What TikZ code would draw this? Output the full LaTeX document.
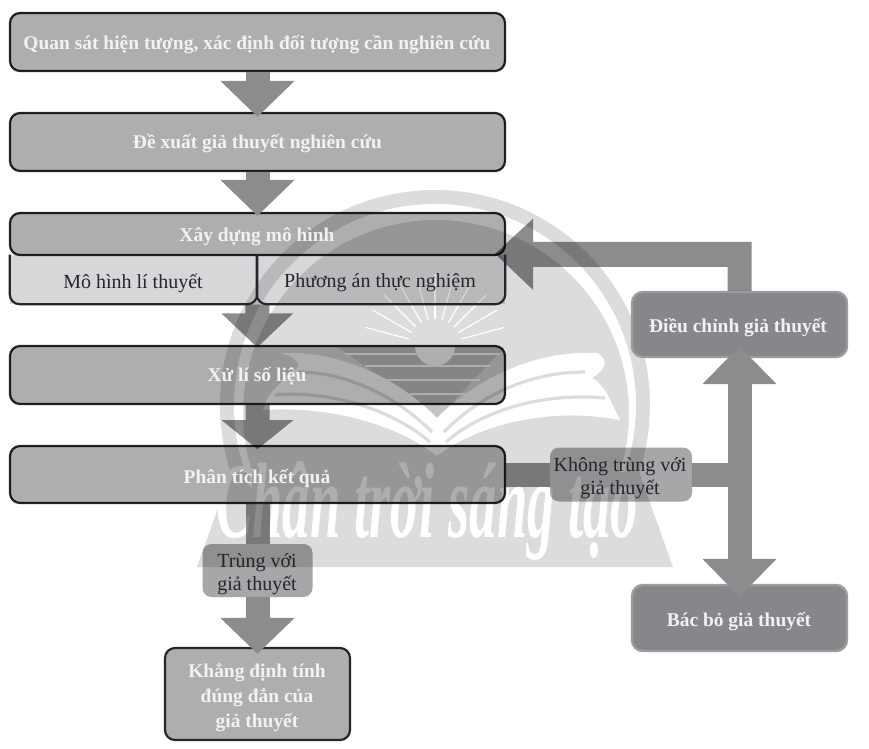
\documentclass[tikz,border=0pt]{standalone}
\usepackage{fontspec}
\setmainfont{Liberation Serif}
\usetikzlibrary{arrows.meta,calc}
\definecolor{boxfill}{HTML}{ADAEB0}
\definecolor{subfill}{HTML}{D6D7D9}
\definecolor{stemc}{HTML}{8B8C8E}
\definecolor{darkbox}{HTML}{86878A}
\definecolor{darkedge}{HTML}{9B9C9E}
\definecolor{labelbox}{HTML}{A6A7A9}
\definecolor{inkc}{HTML}{26262A}
\definecolor{wmA}{HTML}{DCDCDC}
\definecolor{wmB}{HTML}{C4C4C4}
\newlength{\px}
\setlength{\px}{0.75pt}
\tikzset{
  x=0.75pt,y=-0.75pt,
  mainbox/.style={draw=inkc,line width=2.2\px,fill=boxfill,rounded corners=10\px,inner sep=0pt},
  darkrbox/.style={draw=darkedge,line width=2.4\px,fill=darkbox,rounded corners=11\px,inner sep=0pt},
  labbox/.style={fill=labelbox,rounded corners=9\px,inner sep=0pt},
  subbox/.style={fill=subfill,inner sep=0pt},
  subedge/.style={draw=inkc,line width=2.2\px,rounded corners=10\px},
  boldtext/.style={text=white!95!black,font=\bfseries\fontsize{14.6pt}{18.75pt}\selectfont,align=center,inner sep=0pt},
  plaintext/.style={text=inkc,font=\fontsize{15pt}{17pt}\selectfont,align=center,inner sep=0pt},
  blockarrow/.style={draw=stemc,line width=18pt,-{Triangle[width=54pt,length=27pt,color=stemc]}},
  blockline/.style={draw=stemc,line width=18pt},
  blocktwo/.style={draw=stemc,line width=18pt,{Triangle[width=54pt,length=28.5pt,color=stemc]}-{Triangle[width=54pt,length=28.5pt,color=stemc]}},
  wmfont/.style={text=white,font=\bfseries\itshape\fontsize{62pt}{62pt}\selectfont,inner sep=0pt},
}
\begin{document}
\begin{tikzpicture}
\useasboundingbox (0,0) rectangle (869,749);
\fill[white] (0,0) rectangle (869,749);

% watermark, seen through the diagram
\begin{scope}
  \clip (190,180) rectangle (690,480);
  \fill[wmA] (435,405) circle[radius=215\px];
  \fill[white,even odd rule] (435,405) circle[radius=201\px] (436,413) circle[radius=193\px];
\end{scope}
\fill[wmB] (338,347) -- (505,347) -- (437,418) -- cycle;
\foreach \yy/\xa/\xb in {354/345/500,366/365/490,380/385/480,394/410/465}
  \draw[white,line width=1.3\px] (\xa,\yy) -- (\xb,\yy);
\begin{scope}[shift={(435,346)}]
  \foreach \ang in {-15,-30,-45,-60,-75,-90,-105,-120,-135,-150,-165}
    \draw[white,line width=1.2\px] (\ang:27) -- (\ang:72);
  \fill[white] (-20,0) arc[start angle=180,end angle=360,radius=20\px] -- cycle;
\end{scope}
\fill[white] (437,418) .. controls (395,375) and (335,350) .. (280,353)
   .. controls (305,360) and (300,370) .. (290,372)
   .. controls (280,385) and (265,395) .. (263,410)
   .. controls (340,405) and (405,430) .. (437,456)
   .. controls (470,430) and (540,405) .. (620,420)
   .. controls (610,400) and (605,385) .. (592,378)
   .. controls (605,370) and (610,360) .. (597,353)
   .. controls (540,350) and (480,375) .. (437,418) -- cycle;
\draw[wmA,line width=3.2\px] (298,372) .. controls (345,372) and (395,395) .. (432,432);
\draw[wmA,line width=3.2\px] (275,395) .. controls (335,390) and (395,412) .. (430,442);
\draw[wmA,line width=3.2\px] (585,372) .. controls (530,372) and (480,395) .. (444,432);
\draw[wmA,line width=3.2\px] (605,398) .. controls (540,392) and (480,412) .. (446,442);
\fill[wmA] (231,472) -- (197,567) -- (673,567) -- (639,472) -- cycle;
\node[wmfont,xscale=0.66,yscale=1.3] (wm) at (427,511) {Chân trời sáng tạo};

% shapes that let the watermark show through
\begin{scope}[blend mode=multiply]
  \coordinate (jn) at (740,474.5);
  \node[mainbox,minimum width=495\px,minimum height=58\px] (a) at (257.5,42) {};
  \node[mainbox,minimum width=495\px,minimum height=58\px] (b) at (257.5,142) {};
  \node[mainbox,minimum width=495\px,minimum height=42\px] (c) at (257.5,234) {};
  \node[subbox,minimum width=247\px,minimum height=49\px] (sl) at (133.5,279.5) {};
  \node[subbox,minimum width=248\px,minimum height=49\px] (sr) at (381,279.5) {};
  \node[mainbox,minimum width=495\px,minimum height=58\px] (d) at (257.5,375) {};
  \node[mainbox,minimum width=495\px,minimum height=57\px] (e) at (257.5,474.5) {};
  \node[labbox,minimum width=142\px,minimum height=54\px] (k) at (621,474.5) {};
  \node[labbox,minimum width=110\px,minimum height=53\px] (t) at (257.5,570.5) {};
  \fill[stemc] ($(sl.south east)+(12,0)$) -- ++(0,9) -- ++(24,0) -- ++(-36,34) -- ++(-36,-34) -- ++(24,0) -- ++(0,-9) -- cycle;
  \fill[stemc] ($(d.south)+(12,0)$) -- ++(0,15) -- ++(24,0) -- ++(-36,29) -- ++(-36,-29) -- ++(24,0) -- ++(0,-15) -- cycle;
  \draw[blockline] (e.east) -- (k.west);
  \draw[blockline] (k.east) -- (jn);
  \draw[blockline] (e.south) -- (t.north);
\end{scope}

% shapes lying clear of the watermark
\node[mainbox,minimum width=185\px,minimum height=92\px] (f) at (257.5,694) {};
\node[darkrbox,minimum width=215\px,minimum height=65\px] (g) at (739.5,324.5) {};
\node[darkrbox,minimum width=215\px,minimum height=66\px] (h) at (739.5,618) {};
\begin{scope}[blend mode=multiply]
  \fill[stemc] ($(g.north)+(12,0)$) -- ++(0,-49) -- ++(-218.5,0) -- ++(0,-23) -- ++(-38,35) -- ++(38,36) -- ++(0,-23) -- ++(194.5,0) -- ++(0,24) -- cycle;
\end{scope}
\draw[subedge] (sl.north west) -- (sl.south west) -- (sl.south east) -- (sl.north east);
\draw[subedge] (sr.north west) -- (sr.south west) -- (sr.south east) {[sharp corners] -- (sr.north east)};
\draw[blockarrow,shorten >=-3.75pt] (a.south) -- (b.north);
\draw[blockarrow,shorten >=-3pt] (b.south) -- (c.north);
\draw[blockarrow,shorten >=-5.25pt] (t.south) -- (f.north);
\draw[blocktwo,shorten <=-9pt,shorten >=-9.75pt] (g.south) -- (h.north);

% texts
\node[boldtext] (at) at (257,45) {Quan sát hiện tượng, xác định đối tượng cần nghiên cứu};
\node[boldtext] (bt) at (257.5,144) {Đề xuất giả thuyết nghiên cứu};
\node[boldtext] (ct) at (257,237) {Xây dựng mô hình};
\node[plaintext] (slt) at (133,283) {Mô hình lí thuyết};
\node[plaintext] (srt) at (380,283) {Phương án thực nghiệm};
\node[boldtext] (dt) at (257,376) {Xử lí số liệu};
\node[boldtext] (et) at (257,478) {Phân tích kết quả};
\node[boldtext] (ft) at (257,698) {Khẳng định tính\\đúng đắn của\\giả thuyết};
\node[boldtext] (gt) at (738,328) {Điều chỉnh giả thuyết};
\node[boldtext] (ht) at (739,622) {Bác bỏ giả thuyết};
\node[plaintext] (kt) at (620,478) {Không trùng với\\giả thuyết};
\node[plaintext] (tt) at (257,574) {Trùng với\\giả thuyết};
\end{tikzpicture}
\end{document}
